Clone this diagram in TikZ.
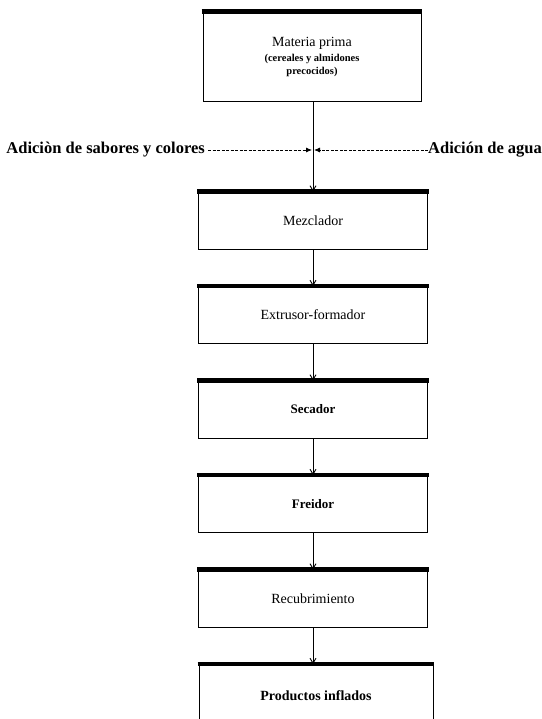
\documentclass[tikz,border=0pt]{standalone}
\usepackage{fontspec}
\setmainfont{Liberation Serif}
\usetikzlibrary{arrows.meta}
\begin{document}
\begin{tikzpicture}[x=1pt,y=-1pt,
  stage/.style={draw, line width=0.9pt, minimum width=229pt, minimum height=57pt, inner sep=0pt, align=center, font=\fontsize{14}{16}\selectfont},
  topbar/.style={line width=4.5pt},
  flow/.style={line width=0.9pt, -{Straight Barb[length=5pt,width=6pt]}},
  feed/.style={line width=0.8pt, dash pattern=on 3pt off 1.5pt, -{Latex[length=6pt,width=5pt]}},
  side/.style={font=\fontsize{16.5}{18}\selectfont\bfseries, inner sep=0pt}]
\useasboundingbox (0,0) rectangle (541,719);

\node[stage, minimum width=218pt, minimum height=89pt] (mp) at (312,56.5)
  {Materia prima\\[-1pt]{\fontsize{10.5}{12}\selectfont\bfseries (cereales y almidones}\\[-3pt]{\fontsize{10.5}{12}\selectfont\bfseries precocidos)}};
\node[stage] (mz) at (313,220.5) {Mezclador};
\node[stage] (ex) at (313,315) {Extrusor-formador};
\node[stage, font=\fontsize{13}{15}\selectfont\bfseries] (se) at (313,409.5) {Secador};
\node[stage, font=\fontsize{13}{15}\selectfont\bfseries] (fr) at (313,504) {Freidor};
\node[stage] (re) at (313,598.5) {Recubrimiento};
\node[stage, minimum width=234pt, minimum height=62pt, font=\fontsize{14}{16}\selectfont\bfseries] (pr) at (316,695.5) {Productos inflados};

\foreach \b in {mp,mz,ex,se,fr,re,pr}
  \draw[topbar] ([xshift=-1pt]\b.north west) -- ([xshift=1pt]\b.north east);

\coordinate (j) at (313,150);
\node[side, anchor=east] (ls) at (205,150) {Adiciòn de sabores y colores};
\node[side, anchor=west] (rs) at (428,150) {Adición de agua};

\draw[flow] (mp.south -| j) -- (mz.north -| j);
\draw[flow] (mz.south -| j) -- (ex.north -| j);
\draw[flow] (ex.south -| j) -- (se.north -| j);
\draw[flow] (se.south -| j) -- (fr.north -| j);
\draw[flow] (fr.south -| j) -- (re.north -| j);
\draw[flow] (re.south -| j) -- (pr.north -| j);

\draw[feed] ([xshift=3pt]ls.east) -- ([xshift=-1pt]j);
\draw[feed] (rs.west) -- ([xshift=1pt]j);
\end{tikzpicture}
\end{document}
